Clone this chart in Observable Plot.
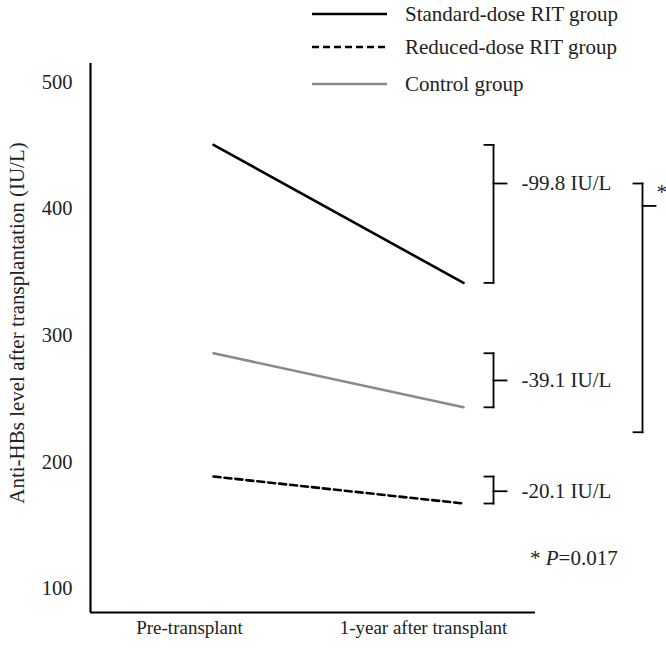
<!DOCTYPE html>
<html><head><meta charset="utf-8">
<script src="https://cdn.jsdelivr.net/npm/d3@7"></script>
<script src="https://cdn.jsdelivr.net/npm/@observablehq/plot@0.6"></script>
<style>
body{margin:0;background:#fff;}
#wrap{position:relative;width:666px;height:654px;font-family:"Liberation Serif","Times New Roman",serif;}
#wrap svg, #wrap svg text{font-family:"Liberation Serif","Times New Roman",serif !important;}
#legend{position:absolute;left:0;top:0;}
</style></head><body><div id="wrap"></div>
<script>
// ---- data ----
const categories = ["Pre-transplant", "1-year after transplant"];
const groups = ["Standard-dose RIT group", "Reduced-dose RIT group", "Control group"];
const standardValues = [450.5, 341.5];
const reducedValues = [188.5, 167.2];
const controlValues = [285.9, 243.2];
const changeLabels = ["-99.8 IU/L", "-20.1 IU/L", "-39.1 IU/L"];
const changeLabelValues = [420, 176.9, 264.4];
const compareRange = [420, 223.5];   // bracket for the standard vs reduced comparison
const yTicks = [100, 200, 300, 400, 500];
const yTitle = "Anti-HBs level after transplantation (IU/L)";
const pNote = ["* ", "P", "=0.017"];
const pNoteValue = 123.7;

// ---- styles / layout ----
const seriesValues = [standardValues, reducedValues, controlValues];
const seriesStyle = [
  {stroke: "#000", dash: null},
  {stroke: "#000", dash: "7,4"},
  {stroke: "#8a8a8a", dash: null}
];
const font = '"Liberation Serif","Times New Roman",serif';
const W = 666, H = 654;
const xDomain = [-0.492, 1.288];
const yDomain = [81.1, 514.8];
// bracket x positions (in category-index units)
const bx = {tick: 1.084, stem: 1.12, spike: 1.172, label: 1.232};
const cx = {tick: 1.68, stem: 1.716, spike: 1.768, star: 1.772};
const catLabelShift = [-24, -40];

const rows = [];
groups.forEach((g, gi) => categories.forEach((c, i) => rows.push({group: g, gi, i, value: seriesValues[gi][i]})));

// bracket segments
const segs = [];
groups.forEach((g, gi) => {
  const [v0, v1] = seriesValues[gi];
  const s = changeLabelValues[gi];
  segs.push({x1: bx.tick, x2: bx.stem, y1: v0, y2: v0});
  segs.push({x1: bx.stem, x2: bx.stem, y1: v0, y2: v1});
  segs.push({x1: bx.tick, x2: bx.stem, y1: v1, y2: v1});
  segs.push({x1: bx.stem, x2: bx.spike, y1: s, y2: s});
});
const [c0, c1] = compareRange;
const cMid = c0 - (c0 - c1) * 0.09;
segs.push({x1: cx.tick, x2: cx.stem, y1: c0, y2: c0});
segs.push({x1: cx.stem, x2: cx.stem, y1: c0, y2: c1});
segs.push({x1: cx.tick, x2: cx.stem, y1: c1, y2: c1});
segs.push({x1: cx.stem, x2: cx.spike, y1: cMid, y2: cMid});

const labels = groups.map((g, gi) => ({text: changeLabels[gi], x: bx.label, y: changeLabelValues[gi]}));

const marks = [
  Plot.ruleX([xDomain[0]], {stroke: "#000", strokeWidth: 2.2}),
  Plot.ruleY([yDomain[0]], {stroke: "#000", strokeWidth: 2.2}),
  Plot.axisY({ticks: yTicks, tickSize: 0, tickPadding: 18, fontSize: 20.5, label: null, fill: "#222"}),
  ...groups.map((g, gi) => Plot.line(rows.filter(r => r.gi === gi), {
    x: "i", y: "value", stroke: seriesStyle[gi].stroke, strokeWidth: 2.6,
    strokeDasharray: seriesStyle[gi].dash || undefined
  })),
  Plot.link(segs, {x1: "x1", x2: "x2", y1: "y1", y2: "y2", stroke: "#000", strokeWidth: 1.8, strokeLinecap: "square"}),
  Plot.text(labels, {x: "x", y: "y", text: "text", textAnchor: "start", fontSize: 21, fill: "#222"}),
  Plot.text(["*"], {x: [cx.star], y: [413], textAnchor: "start", fontSize: 21, fill: "#222"}),
  ...categories.map((c, i) => Plot.text([c], {x: [i], frameAnchor: "bottom", dy: 21, dx: catLabelShift[i], fontSize: 19, fill: "#222"})),
  Plot.text([yTitle], {frameAnchor: "left", rotate: -90, textAnchor: "middle", dx: -73, dy: -15, fontSize: 21, fill: "#222"})
];

const chart = Plot.plot({
  width: W, height: H,
  marginLeft: 90, marginRight: 131, marginTop: 63, marginBottom: 42,
  x: {type: "linear", domain: xDomain, axis: null},
  y: {domain: yDomain},
  style: {background: "#fff", overflow: "visible"},
  marks
});
const wrap = document.getElementById("wrap");
wrap.appendChild(chart);

// P-value note with italic P, positioned through the chart's scales
const sx = chart.scale("x"), sy = chart.scale("y");
const svgSel = d3.select(chart);
const note = svgSel.append("text")
  .attr("x", sx.apply(bx.label) + 9).attr("y", sy.apply(pNoteValue)).attr("dy", "0.32em")
  .attr("text-anchor", "start")
  .attr("font-family", font).attr("font-size", 21).attr("fill", "#222");
note.append("tspan").text(pNote[0]);
note.append("tspan").attr("font-style", "italic").text(pNote[1]);
note.append("tspan").text(pNote[2]);

// legend (above the plot area, top right)
const legend = d3.select(wrap).append("svg").attr("id", "legend").attr("width", W).attr("height", 100);
const legendY = [14, 47, 84];
groups.forEach((g, gi) => {
  legend.append("line").attr("x1", 312).attr("x2", 387).attr("y1", legendY[gi]).attr("y2", legendY[gi])
    .attr("stroke", seriesStyle[gi].stroke).attr("stroke-width", 2.6)
    .attr("stroke-dasharray", seriesStyle[gi].dash);
  legend.append("text").attr("x", 405).attr("y", legendY[gi]).attr("dy", "0.32em")
    .attr("font-family", font).attr("font-size", 21).attr("fill", "#222").text(g);
});
</script></body></html>
